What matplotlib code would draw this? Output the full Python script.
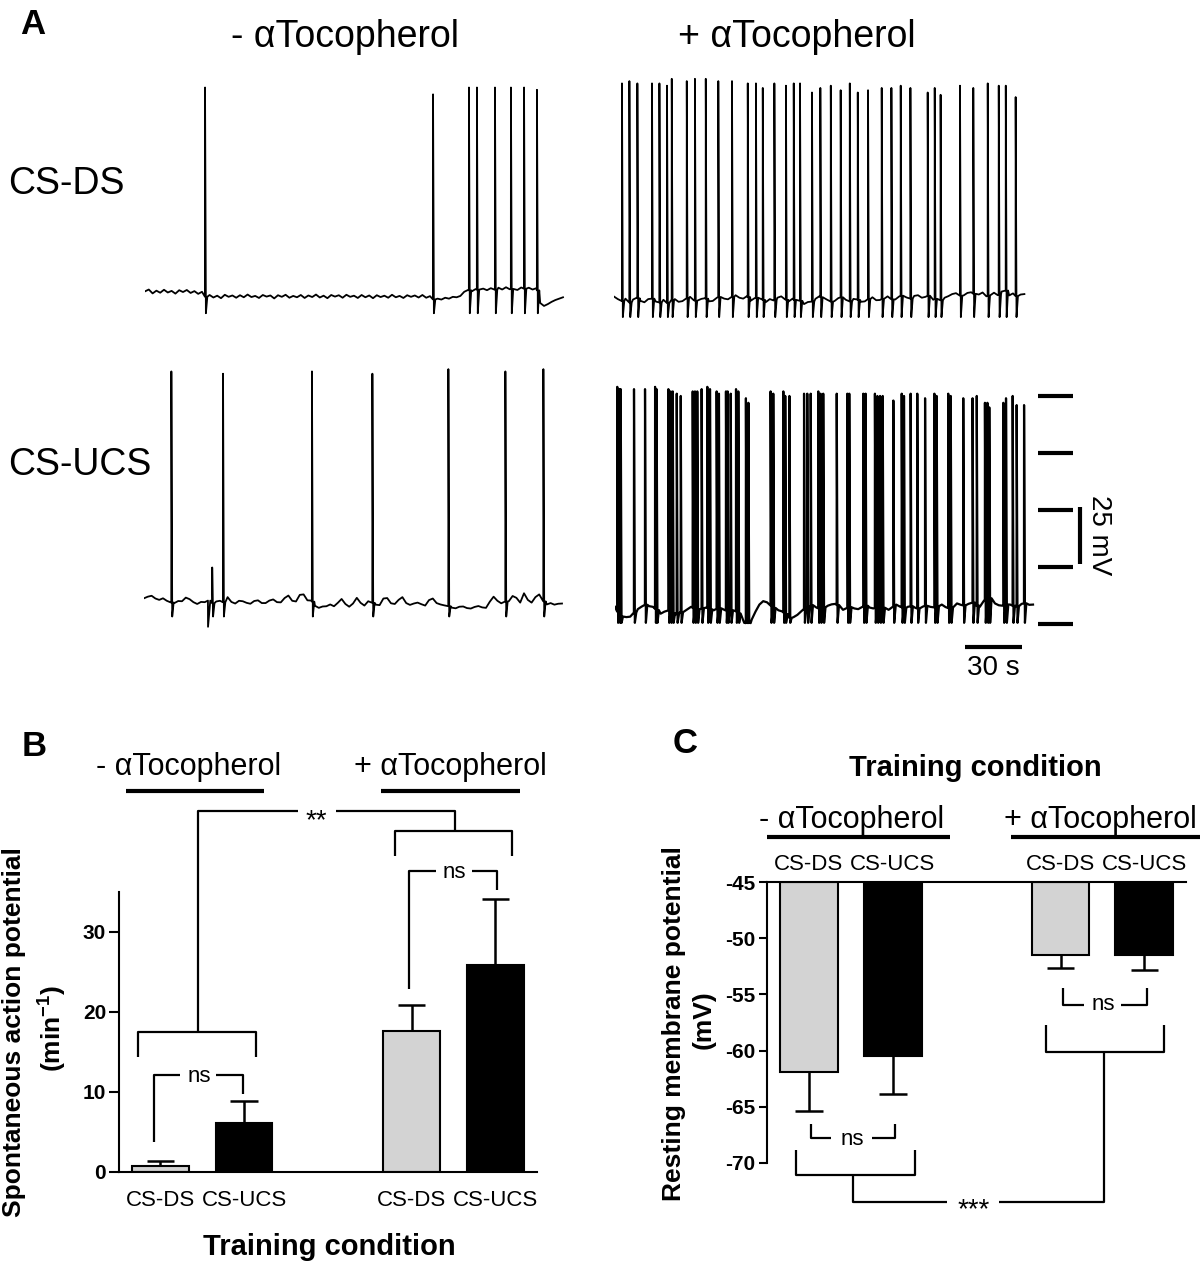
"""
Spontaneous firing and resting potential, with and without alpha-tocopherol.
"""
import numpy as np
import matplotlib
matplotlib.use('Agg')
import matplotlib.pyplot as plt
from matplotlib.lines import Line2D

plt.rcParams['font.family'] = ['Liberation Sans', 'DejaVu Sans']
plt.rcParams['mathtext.fontset'] = 'custom'
plt.rcParams['mathtext.rm'] = 'Liberation Sans'
plt.rcParams['mathtext.bf'] = 'Liberation Sans:bold'

# ---- data -------------------------------------------------------------
groups = ['CS-DS', 'CS-UCS', 'CS-DS', 'CS-UCS']
ap_rate = [0.7, 6.1, 17.6, 25.9]          # min^-1
ap_sem = [0.7, 2.8, 3.3, 8.2]
rmp = [-61.9, -60.5, -51.5, -51.5]         # mV
rmp_sem = [3.5, 3.4, 1.1, 1.3]

# traces: baseline sampled every 2 s (mV), spike times (s) and peaks (mV)
t1_base = [-58.4, -57.6, -59.3, -58.1, -59.0, -57.7, -58.9, -58.2, -59.4, -57.9,
           -58.7, -57.8, -59.1, -58.3, -59.5, -58.6,
           -61.3, -60.0, -61.1, -60.3, -61.4, -59.9, -60.8, -60.2, -61.2, -60.1,
           -61.0, -59.8, -60.9, -60.4, -61.3, -60.0,
           -60.7, -60.2, -61.5, -60.1, -60.8, -59.9, -61.2, -60.4, -61.0, -60.0,
           -61.3, -60.2, -60.9, -59.8,
           -61.1, -60.3, -61.4, -60.0, -60.7, -60.1, -61.2, -59.9, -60.8, -60.3,
           -61.3, -60.0, -61.0, -60.2,
           -61.4, -60.1, -60.9, -60.3, -61.2, -59.9, -61.0, -60.4, -61.3, -60.1,
           -60.8, -60.2, -61.1, -60.0, -61.2, -60.5,
           -62.3, -61.6, -62.0, -61.2, -61.6, -60.8, -61.0, -60.4,
           -58.6, -57.8, -58.4, -57.4, -58.1, -57.2, -57.9, -57.0, -57.8, -56.8,
           -57.6, -56.6, -57.5, -56.9, -57.8, -56.7, -57.4, -56.8, -57.6, -57.0,
           -63.5, -64.8, -64.0, -63.0, -62.2, -61.6, -61.0]
t1_spike_t = [31.6, 151.6, 170.5, 174.7, 184.2, 192.6, 199.5, 206.3]
t1_spike_pk = [31, 28, 31, 31, 31, 31, 31, 30]

t2_base = [-58.5, -59.6, -60.6, -59.4, -61.2, -59.8, -59.0, -60.4, -61.0, -59.6,
           -59.4, -60.7, -61.1, -59.9, -61.4, -60.2,
           -59.6, -60.8, -60.5, -59.3, -58.6, -60.1, -60.8, -59.5, -59.2, -60.6,
           -60.4, -59.1, -58.1, -59.4, -59.7, -58.6,
           -57.9, -59.0, -59.4, -58.3, -60.3, -59.2, -58.6, -59.8, -60.9, -59.6,
           -60.2, -59.0, -58.4, -59.7, -60.6, -59.4,
           -61.2, -60.3, -61.8, -60.9, -60.8, -59.5, -58.4, -59.6, -59.8, -60.7,
           -60.5, -59.2, -58.6, -59.9, -60.7, -59.5,
           -59.8, -60.8, -60.6, -59.4, -58.8, -60.1, -60.0, -58.9, -58.4, -59.7,
           -59.8, -58.5, -57.6, -58.9, -59.4, -58.2,
           -57.9, -59.0, -58.6, -57.7, -59.9, -58.8, -60.2, -59.0, -58.3, -57.4,
           -57.0, -58.1, -58.0, -56.9, -56.6, -57.8,
           -57.6, -56.7, -58.4, -57.3, -56.8, -57.9, -56.3, -55.6, -58.0, -57.1,
           -58.8, -57.6, -57.4]
t2_spike_t = [4.2, 8.1, 12.3, 20.0, 23.9, 27.9, 30.4, 38.3, 42.6, 48.3,
              54.9, 62.1, 70.4, 74.7, 78.3, 84.4, 90.5, 94.6, 97.9, 104.2,
              108.6, 114.1, 119.3, 124.1, 128.3, 133.7, 140.9, 146.0, 150.9,
              156.0, 165.1, 168.8, 171.9, 182.1, 189.1, 196.7, 202.5, 206.2, 211.4]
t2_spike_pk = [35, 36, 35, 35, 35, 34, 37, 36, 37, 37,
               36, 36, 35, 35, 33, 35, 34, 35, 35, 31,
               33, 34, 32, 35, 31, 32, 33, 33, 34,
               33, 31, 33, 30, 34, 33, 35, 34, 34, 29]

t3_base = [-58.5, -57.8, -57.4, -58.6, -59.2, -58.5, -59.6, -60.3, -60.6, -59.7,
           -59.8, -58.2, -58.9, -60.2, -61.0, -60.1,
           -60.2, -59.4, -60.7, -59.9, -59.6, -60.4, -58.0, -60.1, -60.8, -59.6,
           -59.8, -60.5, -60.9, -59.7, -59.4, -60.6,
           -60.6, -59.5, -59.0, -60.2, -60.3, -58.4, -57.3, -59.6, -59.9, -57.0,
           -56.8, -59.4, -59.5, -61.8, -62.7, -62.1,
           -62.0, -61.2, -62.0, -60.5, -58.8, -61.0, -62.2, -60.8, -58.3, -60.5,
           -61.7, -59.8, -60.4, -61.3, -61.5, -58.6,
           -58.4, -60.7, -61.0, -59.2, -58.0, -60.6, -61.4, -60.8, -60.4, -61.1,
           -61.7, -59.3, -58.6, -60.6, -61.2, -61.6,
           -61.9, -62.6, -62.9, -62.2, -62.1, -62.8, -63.0, -62.3, -61.9, -62.5,
           -62.7, -60.0, -57.8, -59.6, -60.7, -59.9,
           -59.8, -57.5, -58.3, -60.4, -56.3, -59.2, -60.4, -58.0, -56.8, -59.7,
           -61.2, -60.6, -61.3, -60.9, -60.8]
t3_spike_t = [14.4, 33.7, 35.9, 41.6, 88.4, 120.2, 160.2, 190.2, 210.2]
t3_spike_pk = [41, -71, -45, 40, 41, 40, 42, 41, 42]

t4_base = [-59.5, -63.0, -64.5, -64.0, -63.8, -62.0, -60.5, -59.4, -58.5, -59.2,
           -59.5, -61.0, -62.5, -61.6, -61.0, -62.2,
           -62.8, -62.0, -61.5, -60.6, -59.5, -60.4, -60.8, -59.9, -59.8, -60.6,
           -61.0, -60.1, -60.2, -61.0, -60.8, -61.2,
           -61.5, -63.5, -66.5, -66.8, -65.0, -61.5, -58.5, -57.0, -57.5, -59.0,
           -60.5, -61.0, -61.5, -63.0, -64.5, -64.0,
           -63.0, -61.5, -60.0, -59.0, -58.5, -59.8, -60.5, -59.5, -59.0, -58.4,
           -58.2, -59.6, -60.8, -60.0, -59.5, -60.2,
           -60.5, -59.6, -59.0, -59.8, -60.2, -59.5, -59.5, -60.4, -60.8, -59.6,
           -58.5, -59.4, -60.0, -59.5, -59.2, -59.9,
           -60.5, -59.4, -58.8, -59.5, -59.8, -58.9, -58.5, -59.6, -60.2, -59.0,
           -58.0, -58.6, -59.0, -58.2, -57.5, -58.8,
           -59.5, -57.0, -55.0, -56.5, -58.0, -58.8, -59.0, -58.4, -58.5, -59.3,
           -59.2, -58.2, -57.8, -58.6, -58.5]
t4_spike_t = [1.2, 2.3, 3.0, 10.0, 15.8, 21.1, 21.9, 28.1, 29.3, 30.4, 32.5, 34.6,
              40.9, 42.1, 43.3, 45.6, 48.6, 50.0, 53.5, 54.7, 58.4, 59.3, 60.9,
              63.7, 64.9, 68.9, 70.2, 81.9, 83.3, 88.6, 89.6, 91.8, 99.5, 101.2,
              103.0, 107.0, 108.2, 109.6, 116.7, 122.3, 123.3, 130.7, 131.9,
              136.8, 138.1, 139.5, 140.9, 146.5, 150.9, 152.1, 155.6, 159.1,
              163.2, 168.1, 169.3, 175.4, 176.7, 183.3, 188.2, 190.4, 194.7,
              196.0, 197.0, 204.4, 205.8, 209.3, 211.4, 215.3]
t4_spike_pk = [37, 36, 36, 36, 36, 37, 36, 36, 35, 35, 34, 33,
               35, 35, 35, 36, 37, 36, 35, 34, 35, 35, 34,
               36, 35, 32, 30, 35, 34, 35, 33, 33, 34, 34,
               34, 35, 34, 34, 34, 34, 34, 34, 34,
               34, 33, 33, 33, 31, 34, 33, 34, 34,
               32, 34, 33, 34, 33, 32, 32, 33, 30,
               30, 28, 30, 32, 33, 29, 29]

W, H = 1200, 1265
PX_S, PX_MV = 57 / 30, 57 / 25
STEP = 2.0


def build_trace(base, spike_t, spike_pk, trough):
    tb = np.arange(len(base)) * STEP
    base = np.asarray(base, float)
    keep = np.ones(len(tb), bool)
    pts = []
    for i, (ts, pk) in enumerate(zip(spike_t, spike_pk)):
        b = np.interp(ts, tb, base)
        nxt = spike_t[i + 1] if i + 1 < len(spike_t) else np.inf
        pts += [(ts - 0.05, b), (ts, pk), (ts + 0.45, trough)]
        end = ts + 0.45
        if nxt - ts > 1.4:
            pts.append((ts + 1.2, b))
            end = ts + 1.2
        keep &= ~((tb > ts - 0.3) & (tb < end + 0.3))
    pts += list(zip(tb[keep], base[keep]))
    pts.sort()
    t, v = zip(*pts)
    return np.array(t), np.array(v)


fig = plt.figure(figsize=(12, 12.65), dpi=100)


def px_axes(x0, top, w, h):
    return fig.add_axes([x0 / W, 1 - (top + h) / H, w / W, h / H])


def ptext(x, y, s, **kw):
    fig.text(x / W, 1 - y / H, s, **kw)


def pline(x0, x1, y, lw=3):
    fig.add_artist(Line2D([x0 / W, x1 / W], [1 - y / H] * 2, lw=lw,
                          color='k', transform=fig.transFigure,
                          solid_capstyle='butt'))


def trace_axes(x0, base_py):
    top = base_py - 110 * PX_MV
    ax = px_axes(x0, top, 260 * PX_S, 135 * PX_MV)
    ax.set_xlim(0, 260)
    ax.set_ylim(-85, 50)
    ax.axis('off')
    return ax


# ---- panel A ------------------------------------------------------------
traces = [
    (145, 295, t1_base, t1_spike_t, t1_spike_pk, -68, 1.3),
    (614, 300, t2_base, t2_spike_t, t2_spike_pk, -67.5, 1.3),
    (144, 601.7, t3_base, t3_spike_t, t3_spike_pk, -66.5, 1.3),
    (615, 608, t4_base, t4_spike_t, t4_spike_pk, -66.5, 1.6),
]
trace_ax = []
for x0, bpy, base, st, sp, tr, lw in traces:
    ax = trace_axes(x0, bpy)
    t, v = build_trace(base, st, sp, tr)
    ax.plot(t, v, color='k', lw=lw)
    trace_ax.append(ax)

ax4 = trace_ax[3]
ax4.plot([184.2, 214.2], [-77.1, -77.1], color='k', lw=3, solid_capstyle='butt')
ax4.text(199, -86.5, '30 s', ha='center', va='center', fontsize=20)
for lvl in [-67, -42, -17, 8, 33]:
    ax4.plot([222.6, 241], [lvl, lvl], color='k', lw=3, solid_capstyle='butt')
ax4.plot([244.7, 244.7], [-40.5, -15.5], color='k', lw=3, solid_capstyle='butt')
ax4.text(255, -28, '25 mV', rotation=270, ha='center', va='center', fontsize=20,
         clip_on=False)

ptext(33, 24, 'A', fontsize=25, fontweight='bold', ha='center', va='center')
ptext(345, 37, '- \u03b1Tocopherol', fontsize=27, ha='center', va='center')
ptext(797, 37, '+ \u03b1Tocopherol', fontsize=27, ha='center', va='center')
ptext(8, 184, 'CS-DS', fontsize=27, ha='left', va='center')
ptext(8, 465, 'CS-UCS', fontsize=27, ha='left', va='center')

# ---- panel B ------------------------------------------------------------
pos = np.array([1, 3, 7, 9])
fills = ['#d3d3d3', 'black', '#d3d3d3', 'black']
axB = px_axes(118.5, 892, 418.8, 279.9)
axB.bar(pos, ap_rate, width=1.35, color=fills, edgecolor='k', lw=1.5, zorder=2)
tops = np.array(ap_rate) + np.array(ap_sem)
axB.vlines(pos, ap_rate, tops, color='k', lw=1.8, zorder=1)
axB.hlines(tops, pos - 0.33, pos + 0.33, color='k', lw=1.8)
axB.set_xlim(0, 10)
axB.set_ylim(0, 35)
axB.set_yticks([0, 10, 20, 30])
axB.set_yticklabels(['0', '10', '20', '30'], fontsize=15, fontweight='bold')
axB.set_xticks(pos)
axB.set_xticklabels(groups, fontsize=16)
axB.tick_params(axis='x', length=0, pad=13)
axB.tick_params(axis='y', length=7, width=1.5, pad=2)
for s in ['top', 'right']:
    axB.spines[s].set_visible(False)
for s in ['left', 'bottom']:
    axB.spines[s].set_linewidth(1.5)

kw = dict(color='k', lw=1.6, clip_on=False, solid_capstyle='butt')
# ns within -aT
axB.plot([0.85, 0.85, 1.46], [3.7, 12.1, 12.1], **kw)
axB.plot([2.33, 2.97, 2.97], [12.1, 12.1, 9.8], **kw)
axB.text(1.92, 11.9, 'ns', ha='center', va='center', fontsize=16)
# -aT group bracket and ** link
axB.plot([0.475, 0.475, 3.29, 3.29], [14.4, 17.5, 17.5, 14.4], **kw)
axB.plot([1.89, 1.89, 4.29], [17.5, 45.1, 45.1], **kw)
axB.plot([5.2, 8.04, 8.04], [45.1, 45.1, 42.65], **kw)
axB.plot([6.6, 6.6, 9.4, 9.4], [39.5, 42.65, 42.65, 39.5], **kw)
axB.text(4.73, 43.8, '**', ha='center', va='center', fontsize=20, clip_on=False)
# ns within +aT
axB.plot([6.94, 6.94, 7.58], [22.9, 37.65, 37.65], **kw)
axB.plot([8.45, 9.04, 9.04], [37.65, 37.65, 35.3], **kw)
axB.text(8.01, 37.5, 'ns', ha='center', va='center', fontsize=16, clip_on=False)

ptext(34, 746, 'B', fontsize=25, fontweight='bold', ha='center', va='center')
ptext(188.4, 767, '- \u03b1Tocopherol', fontsize=22, ha='center', va='center')
ptext(450.3, 767, '+ \u03b1Tocopherol', fontsize=22, ha='center', va='center')
pline(126.2, 263.9, 791.3)
pline(380.5, 520.1, 791.3)
ptext(14, 1032, 'Spontaneous action potential', fontsize=19, fontweight='bold',
      rotation=90, ha='center', va='center')
ptext(52, 1028, r'(min$^{\mathbf{-1}}$)', fontsize=19, fontweight='bold',
      rotation=90, ha='center', va='center')
ptext(329, 1247, 'Training condition', fontsize=21, fontweight='bold',
      ha='center', va='center')

# ---- panel C ------------------------------------------------------------
axC = px_axes(766.8, 882.3, 419.6, 280.4)
axC.bar(pos, np.array(rmp) + 45, bottom=-45, width=1.38, color=fills,
        edgecolor='k', lw=1.5, zorder=2)
lows = np.array(rmp) - np.array(rmp_sem)
axC.vlines(pos, lows, rmp, color='k', lw=1.8, zorder=1)
axC.hlines(lows, pos - 0.33, pos + 0.33, color='k', lw=1.8)
axC.set_xlim(0, 10)
axC.set_ylim(-70, -45)
yt = [-70, -65, -60, -55, -50, -45]
axC.set_yticks(yt)
axC.set_yticklabels([str(v) for v in yt], fontsize=15, fontweight='bold')
axC.xaxis.tick_top()
axC.set_xticks(pos)
axC.set_xticklabels(groups, fontsize=16)
axC.tick_params(axis='x', length=0, pad=5)
axC.tick_params(axis='y', length=6, width=1.5, pad=2)
for s in ['bottom', 'right']:
    axC.spines[s].set_visible(False)
for s in ['left', 'top']:
    axC.spines[s].set_linewidth(1.5)

axC.plot([1.05, 1.05, 1.53], [-66.55, -67.83, -67.83], **kw)
axC.plot([2.51, 3.06, 3.06], [-67.83, -67.83, -66.55], **kw)
axC.text(2.04, -67.95, 'ns', ha='center', va='center', fontsize=16)
axC.plot([0.705, 0.705, 3.53, 3.53], [-68.87, -71.1, -71.1, -68.87], **kw)
axC.plot([2.06, 2.06, 4.29], [-71.1, -73.5, -73.5], **kw)
axC.plot([5.53, 8.04, 8.04], [-73.5, -73.5, -60.16], **kw)
axC.plot([6.66, 6.66, 9.47, 9.47], [-57.7, -60.16, -60.16, -57.7], **kw)
axC.text(4.93, -74.2, '***', ha='center', va='center', fontsize=20, clip_on=False)
axC.plot([7.05, 7.05, 7.57], [-54.45, -55.94, -55.94], **kw)
axC.plot([8.43, 9.05, 9.05], [-55.94, -55.94, -54.45], **kw)
axC.text(8.02, -55.9, 'ns', ha='center', va='center', fontsize=16)

ptext(685, 743, 'C', fontsize=25, fontweight='bold', ha='center', va='center')
ptext(975.7, 768, 'Training condition', fontsize=21, fontweight='bold',
      ha='center', va='center')
ptext(851.5, 820, '- \u03b1Tocopherol', fontsize=22, ha='center', va='center')
ptext(1100.8, 820, '+ \u03b1Tocopherol', fontsize=22, ha='center', va='center')
pline(766.8, 950, 837.3)
pline(1011.4, 1200, 837.3)
ptext(674, 1024, 'Resting membrane potential', fontsize=19, fontweight='bold',
      rotation=90, ha='center', va='center')
ptext(704, 1020, '(mV)', fontsize=19, fontweight='bold',
      rotation=90, ha='center', va='center')

fig.savefig('out.png', dpi=100)
